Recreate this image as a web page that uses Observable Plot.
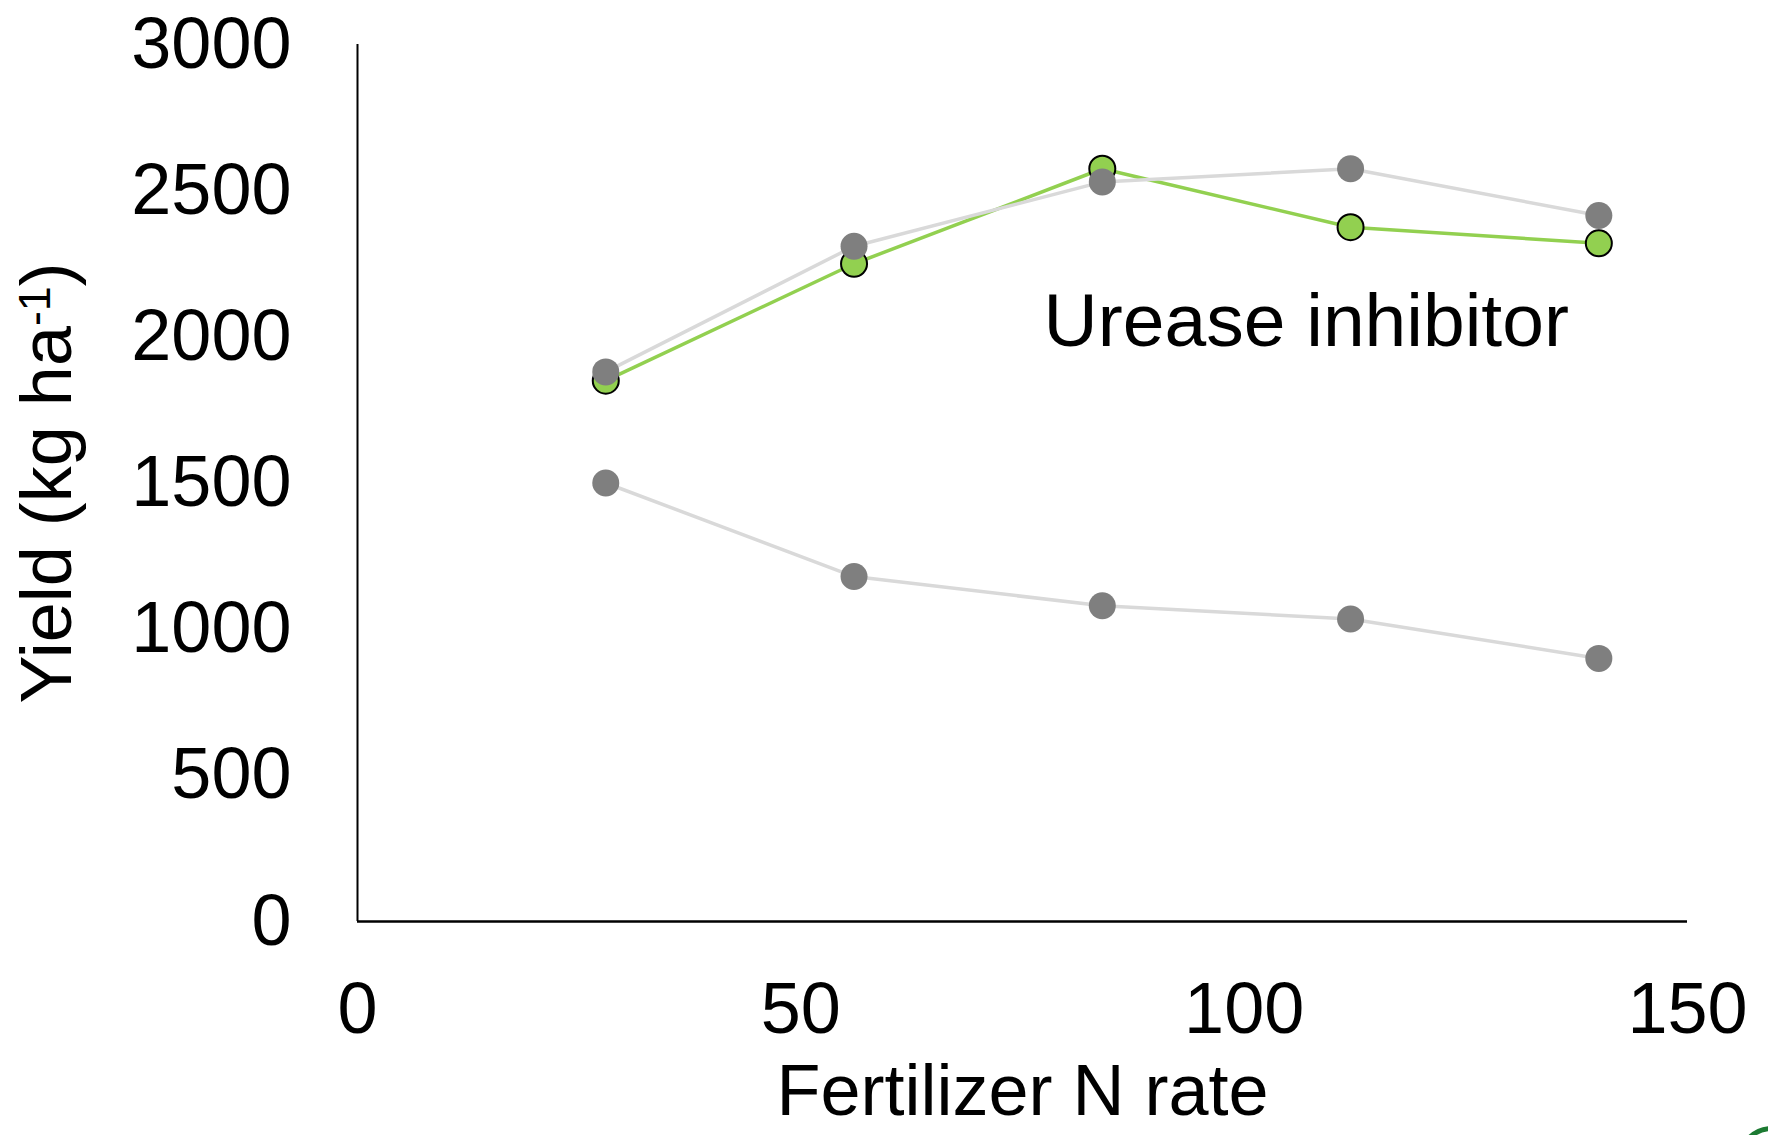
<!DOCTYPE html>
<html>
<head>
<meta charset="utf-8">
<script src="https://cdn.jsdelivr.net/npm/d3@7"></script>
<script src="https://cdn.jsdelivr.net/npm/@observablehq/plot@0.6"></script>
<style>
  html, body { margin: 0; padding: 0; background: #fff; overflow: hidden; }
  #chart { position: relative; width: 1768px; height: 1135px; overflow: hidden; }
  #logo { position: absolute; left: 1737px; top: 1126px; width: 70px; height: 70px;
          border: 5px solid #1c7a32; border-radius: 50%; box-sizing: border-box; }
</style>
</head>
<body>
<div id="chart"><div id="logo"></div></div>
<script>
const nRates = [28, 56, 84, 112, 140];
const ureaseYield = [1850, 2250, 2575, 2375, 2320];
const upperGrayYield = [1880, 2310, 2530, 2575, 2415];
const lowerGrayYield = [1500, 1180, 1080, 1035, 900];
const xTicks = [0, 50, 100, 150];
const yTicks = [0, 500, 1000, 1500, 2000, 2500, 3000];
const xLabel = "Fertilizer N rate";
const yLabel = "Yield (kg ha-1)";
const annotation = {x: 107, y: 2050, text: "Urease inhibitor"};

const toRows = (vals) => nRates.map((x, i) => ({x, y: vals[i]}));
const urease = toRows(ureaseYield);
const upper = toRows(upperGrayYield);
const lower = toRows(lowerGrayYield);

const chart = Plot.plot({
  width: 1768,
  height: 1135,
  marginLeft: 357,
  marginRight: 81,
  marginTop: 44,
  marginBottom: 214,
  style: {fontFamily: "'Liberation Sans', Arial, sans-serif", color: "#000", background: "#fff"},
  x: {domain: [0, 150]},
  y: {domain: [0, 3000]},
  marks: [
    Plot.axisY({ticks: yTicks, tickFormat: d => String(d), tickSize: 0, tickPadding: 66, fontSize: 72, label: null}),
    Plot.axisX({ticks: xTicks, tickFormat: d => String(d), tickSize: 0, tickPadding: 60, fontSize: 72, label: null}),
    Plot.ruleX([0], {y1: 0, y2: 3000, stroke: "#000", strokeWidth: 2}),
    Plot.ruleY([0], {x1: 0, x2: 150, stroke: "#000", strokeWidth: 2.5}),
    Plot.line(lower, {x: "x", y: "y", stroke: "#d9d9d9", strokeWidth: 3.5}),
    Plot.line(urease, {x: "x", y: "y", stroke: "#92d050", strokeWidth: 3.5}),
    Plot.line(upper, {x: "x", y: "y", stroke: "#d9d9d9", strokeWidth: 3.5}),
    Plot.dot(urease, {x: "x", y: "y", r: 13, fill: "#92d050", stroke: "#000", strokeWidth: 2}),
    Plot.dot(upper, {x: "x", y: "y", r: 13.5, fill: "#7f7f7f"}),
    Plot.dot(lower, {x: "x", y: "y", r: 13.5, fill: "#7f7f7f"}),
    Plot.text([annotation], {x: "x", y: "y", text: "text", fontSize: 75, fill: "#000", textAnchor: "middle", lineAnchor: "middle"}),
    Plot.text([xLabel], {frameAnchor: "bottom", dy: 170, fontSize: 72, fill: "#000", textAnchor: "middle", lineAnchor: "middle"}),
    Plot.text([yLabel], {frameAnchor: "left", dx: -310, rotate: -90, fontSize: 72, fill: "#000", textAnchor: "middle", lineAnchor: "middle"})
  ]
});

// render superscript in y label
d3.select(chart).selectAll("text").each(function() {
  const t = d3.select(this);
  if (t.text() === yLabel) {
    t.text(null);
    t.append("tspan").text("Yield (kg ha");
    t.append("tspan").attr("dy", "-0.45em").attr("font-size", "0.62em").text("-1");
    t.append("tspan").attr("dy", "0.28em").text(")");
  }
});

document.getElementById("chart").prepend(chart);
</script>
</body>
</html>
